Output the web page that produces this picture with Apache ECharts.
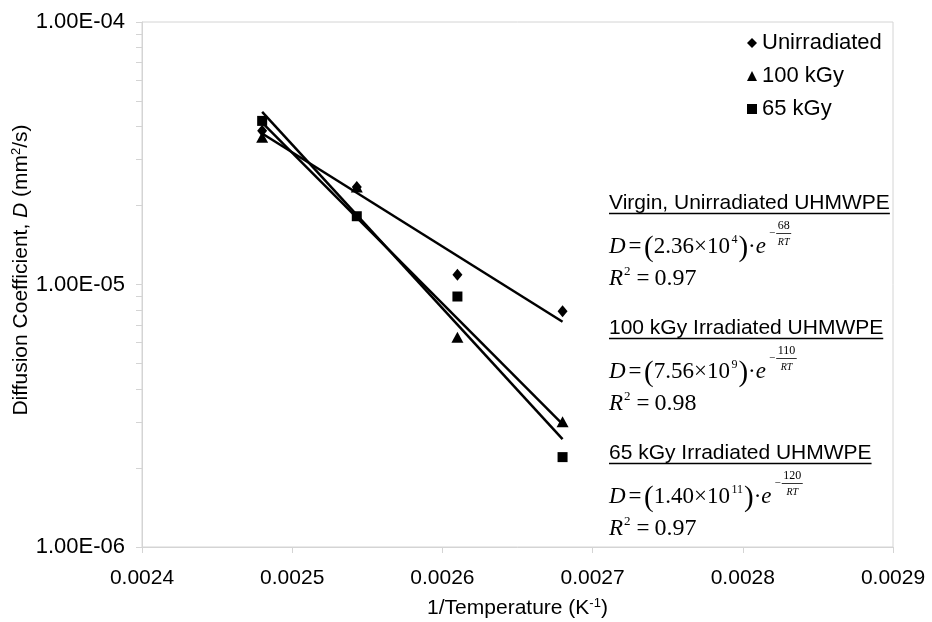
<!DOCTYPE html>
<html><head><meta charset="utf-8">
<script src="https://cdn.jsdelivr.net/npm/echarts@6/dist/echarts.min.js"></script>
<style>html,body{margin:0;padding:0;background:#fff}#c{width:932px;height:622px}</style>
</head><body><div id="c"></div>
<script>
// ---------- data ----------
const invTemp = [0.00248, 0.002543, 0.00261, 0.00268];
const seriesNames = ['Unirradiated', '100 kGy', '65 kGy'];
const dUnirradiated = [3.85e-5, 2.35e-5, 1.09e-5, 7.9e-6];
const d100kGy = [3.64e-5, 2.35e-5, 6.3e-6, 3.0e-6];
const d65kGy = [4.2e-5, 1.82e-5, 9.0e-6, 2.2e-6];
const xMin = 0.0024, xMax = 0.0029, xStep = 0.0001;
const yMajorTicks = [1e-6, 1e-5, 1e-4];
const yMinorTicks = [2e-6, 3e-6, 4e-6, 5e-6, 6e-6, 7e-6, 8e-6, 9e-6, 2e-5, 3e-5, 4e-5, 5e-5, 6e-5, 7e-5, 8e-5, 9e-5];
const eqTitles = ['Virgin, Unirradiated UHMWPE', '100 kGy Irradiated UHMWPE', '65 kGy Irradiated UHMWPE'];
const eqMantissa = ['2.36', '7.56', '1.40'];
const eqPower = ['4', '9', '11'];
const eqEnergy = ['68', '110', '120'];
const eqR2 = ['0.97', '0.98', '0.97'];

// ---------- helpers ----------
const SANS = '"Liberation Sans", Arial, sans-serif';
const SERIF = '"Liberation Serif", "Times New Roman", serif';
const mctx = document.createElement('canvas').getContext('2d');
function measure(t, font) { mctx.font = font; return mctx.measureText(t).width; }

// exponential (log-linear) least-squares trendline over the data range
function trend(xs, ys) {
  const n = xs.length, ly = ys.map(v => Math.log10(v));
  const mx = xs.reduce((a, b) => a + b, 0) / n, my = ly.reduce((a, b) => a + b, 0) / n;
  let sxy = 0, sxx = 0;
  for (let i = 0; i < n; i++) { sxy += (xs[i] - mx) * (ly[i] - my); sxx += (xs[i] - mx) ** 2; }
  const b = sxy / sxx, a = my - b * mx;
  const x0 = Math.min(...xs), x1 = Math.max(...xs);
  return [[x0, Math.pow(10, a + b * x0)], [x1, Math.pow(10, a + b * x1)]];
}

const dataSets = [dUnirradiated, d100kGy, d65kGy];
const symbols = ['diamond', 'triangle', 'rect'];
const symSizes = [[10, 12], [12, 11], [10, 10]];

const series = [];
dataSets.forEach((d, i) => {
  series.push({
    name: seriesNames[i] + ' trend', type: 'line', data: trend(invTemp, d),
    showSymbol: false, symbol: 'none', silent: true, z: 2,
    lineStyle: { color: '#000', width: 2.5, opacity: 1 }, animation: false
  });
});
dataSets.forEach((d, i) => {
  series.push({
    name: seriesNames[i], type: 'scatter', data: invTemp.map((x, k) => [x, d[k]]),
    symbol: symbols[i], symbolSize: symSizes[i], z: 3,
    itemStyle: { color: '#000', opacity: 1 }, animation: false
  });
});

// ---------- equations as graphic text ----------
const graphics = [];
const EQX = 609;
function txt(x, y, t, font, align) {
  graphics.push({ type: 'text', x: x, y: y, silent: true,
    style: { text: t, font: font, fill: '#000', align: align || 'left', verticalAlign: 'middle' } });
}
function line(x1, y1, x2, y2, w) {
  graphics.push({ type: 'line', silent: true, shape: { x1, y1, x2, y2 }, style: { stroke: '#000', lineWidth: w || 1 } });
}
eqTitles.forEach((title, i) => {
  const ty = 203 + 125 * i;
  const tf = '21px ' + SANS;
  txt(EQX, ty, title, tf);
  line(EQX, ty + 10.5, EQX + measure(title, tf), ty + 10.5, 1.3);

  // D = (m x 10^p) . e^(-E/RT)
  const ey = ty + 44;
  let cx = EQX;
  const put = (t, size, opt) => {
    opt = opt || {};
    const font = (opt.italic ? 'italic ' : '') + size + 'px ' + SERIF;
    txt(cx, ey + (opt.dy || 0), t, font);
    cx += measure(t, font) + (opt.after || 0);
  };
  put('D', 23, { italic: true, after: 3 });
  put('=', 23, { after: 2.5 });
  put('(', 29, { dy: 1 });
  put(eqMantissa[i] + '×10', 23, { after: 1.5 });
  put(eqPower[i], 12, { dy: -7, after: 1 });
  put(')', 29, { dy: 1 });
  put('·', 23);
  put('e', 23, { italic: true, after: 3 });
  put('−', 11, { dy: -13.5, after: 1 });
  const nf = '12px ' + SERIF, df = 'italic 10px ' + SERIF;
  const fw = Math.max(measure(eqEnergy[i], nf), measure('RT', df)) + 3;
  txt(cx + fw / 2, ey - 21, eqEnergy[i], nf, 'center');
  line(cx, ey - 13.5, cx + fw, ey - 13.5, 0.8);
  txt(cx + fw / 2, ey - 5, 'RT', df, 'center');

  // R^2 = value
  const ry = ty + 75.5;
  cx = EQX;
  function put2(t, size, ital, dy, after) {
    const font = (ital ? 'italic ' : '') + size + 'px ' + SERIF;
    txt(cx, ry + dy, t, font);
    cx += measure(t, font) + after;
  }
  put2('R', 23, true, 0, 1);
  put2('2', 13, false, -7, 6);
  put2('=', 23, false, 0, 5);
  put2(eqR2[i], 24, false, 0, 0);
});

// ---------- chart ----------
const chart = echarts.init(document.getElementById('c'), null, { renderer: 'canvas' });
const gray = '#d4d4d4';
chart.setOption({
  animation: false,
  backgroundColor: '#fff',
  grid: { left: 142, right: 39, top: 22, bottom: 75, containLabel: false, outerBoundsMode: 'none',
          show: true, borderColor: gray, borderWidth: 1, backgroundColor: 'transparent' },
  legend: {
    data: seriesNames, orient: 'vertical', left: 747, top: 32, padding: 0,
    itemWidth: 10, itemHeight: 10, itemGap: 11,
    textStyle: { fontFamily: SANS, fontSize: 22, color: '#000', lineHeight: 22 },
    selectedMode: false
  },
  xAxis: {
    type: 'value', min: xMin, max: xMax, interval: xStep,
    axisLine: { show: true, lineStyle: { color: gray, width: 1 } },
    axisTick: { show: true, inside: false, length: 6, lineStyle: { color: gray } },
    splitLine: { show: false },
    axisLabel: { color: '#000', fontFamily: SANS, fontSize: 21, margin: 21, formatter: v => v.toFixed(4) },
    name: '{n|1/Temperature (K}{s|-1}{n|)}', nameLocation: 'middle', nameGap: 50, nameMoveOverlap: false,
    nameTextStyle: {
      rich: {
        n: { fontFamily: SANS, fontSize: 21, color: '#000', lineHeight: 22 },
        s: { fontFamily: SANS, fontSize: 13, color: '#000', lineHeight: 13, verticalAlign: 'top' }
      }
    }
  },
  yAxis: {
    type: 'log', logBase: 10, min: 1e-6, max: 1e-4,
    axisLine: { show: true, lineStyle: { color: gray, width: 1 } },
    axisTick: { show: true, inside: false, length: 6, lineStyle: { color: gray }, customValues: yMajorTicks.concat(yMinorTicks) },
    splitLine: { show: false },
    minorTick: { show: false },
    axisLabel: {
      color: '#000', fontFamily: SANS, fontSize: 22, margin: 17, customValues: yMajorTicks,
      formatter: v => {
        const parts = v.toExponential(2).split('e');
        const e = parseInt(parts[1], 10);
        return parts[0] + 'E' + (e < 0 ? '-' : '+') + String(Math.abs(e)).padStart(2, '0');
      }
    },
    name: '{n|Diffusion Coefficient, }{i|D}{n| (mm}{s|2}{n|/s)}', nameLocation: 'middle', nameGap: 110, nameMoveOverlap: false,
    nameTextStyle: {
      padding: [0, 0, 0, 29],
      rich: {
        n: { fontFamily: SANS, fontSize: 21, color: '#000', lineHeight: 22 },
        i: { fontFamily: SANS, fontSize: 21, color: '#000', fontStyle: 'italic', lineHeight: 22 },
        s: { fontFamily: SANS, fontSize: 13, color: '#000', lineHeight: 13, verticalAlign: 'top' }
      }
    }
  },
  series: series,
  graphic: graphics
});
</script></body></html>
